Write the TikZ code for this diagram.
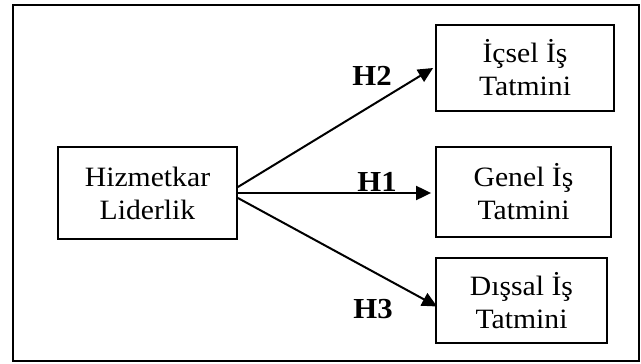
\documentclass[tikz,border=0pt]{standalone}
\usepackage{fontspec}
\setmainfont[FakeStretch=1.06]{Liberation Serif}
\usetikzlibrary{arrows.meta}
\tikzset{
  kutu/.style={draw,line width=1.8pt,align=center,inner sep=0pt,
    font=\fontsize{28}{33}\selectfont},
  ok/.style={line width=2pt,-{Triangle[length=15pt,width=14pt]}},
  hlab/.style={font=\fontsize{29}{30}\selectfont\bfseries}
}

\begin{document}
\begin{tikzpicture}[x=1pt,y=-1pt]
\useasboundingbox (0,0) rectangle (641,364);
\draw[line width=2pt] (13,5) rectangle (639,361);
% kutular
\node[kutu,minimum width=179pt,minimum height=92pt] (hl) at (147.5,193) {Hizmetkar\\Liderlik};
\node[kutu,minimum width=178pt,minimum height=86pt] (ic) at (525,68) {İçsel İş\\Tatmini};
\node[kutu,minimum width=175pt,minimum height=90pt] (ge) at (523.5,192) {Genel İş\\Tatmini};
\node[kutu,minimum width=171pt,minimum height=85pt] (dis) at (521.5,300.5) {Dışsal İş\\Tatmini};
% oklar
\draw[ok] ([yshift=6pt]hl.east) -- ([xshift=-2pt]ic.west);
\draw[ok] (hl.east) -- ([xshift=-4pt,yshift=-1pt]ge.west);
\draw[ok] ([yshift=-5pt]hl.east) -- ([xshift=2pt,yshift=-6pt]dis.west);
% hipotezler
\node[hlab] (h2) at (372,76) {H2};
\node[hlab] (h1) at (377,182) {H1};
\node[hlab] (h3) at (373,309) {H3};
\end{tikzpicture}
\end{document}
